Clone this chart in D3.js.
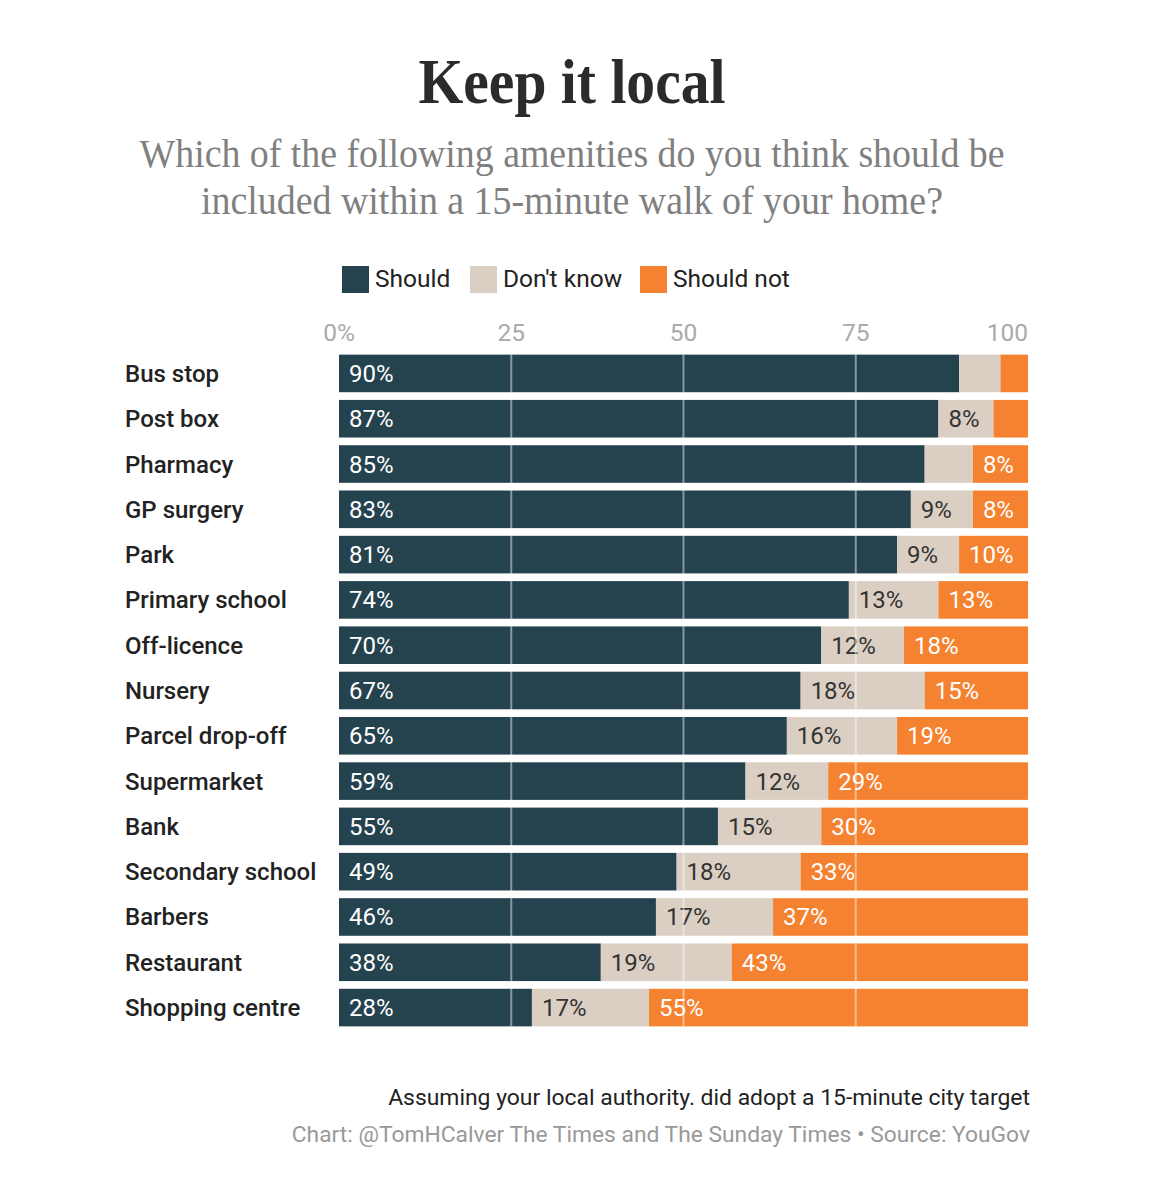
<!DOCTYPE html>
<html><head><meta charset="utf-8">
<script src="https://cdn.jsdelivr.net/npm/d3@7"></script>
<style>body{margin:0;background:#fff}svg{display:block}</style>
</head><body><svg id="c" width="1153" height="1200"></svg>
<script>
const categories = ["Bus stop","Post box","Pharmacy","GP surgery","Park","Primary school","Off-licence","Nursery","Parcel drop-off","Supermarket","Bank","Secondary school","Barbers","Restaurant","Shopping centre"];
const should    = [90,87,85,83,81,74,70,67,65,59,55,49,46,38,28];
const dontKnow  = [6,8,7,9,9,13,12,18,16,12,15,18,17,19,17];
const shouldNot = [4,5,8,8,10,13,18,15,19,29,30,33,37,43,55];
const seriesNames = ["Should","Don't know","Should not"];
const ticks = [0,25,50,75,100];
const tickLabels = ["0%","25","50","75","100"];

const colors = ["#25424f","#dbcfc3","#f58230"];
const labelColors = ["#fff","#333","#fff"];
const svg = d3.select("#c");
const sans = "Roboto, 'Noto Sans', sans-serif";

svg.append("text").attr("x",572).attr("y",103).attr("text-anchor","middle")
  .attr("font-family","'Liberation Serif', 'DejaVu Serif', serif").attr("font-weight","bold")
  .attr("font-size",64).attr("fill","#2b2b2b").attr("textLength",307).attr("lengthAdjust","spacingAndGlyphs")
  .text("Keep it local");
const sub = ["Which of the following amenities do you think should be","included within a 15-minute walk of your home?"];
const subW = [865,742];
sub.forEach((s,i)=>svg.append("text").attr("x",572).attr("y",167+i*47).attr("text-anchor","middle")
  .attr("font-family","'Liberation Serif', 'DejaVu Serif', serif").attr("font-size",39).attr("fill","#808080")
  .attr("textLength",subW[i]).attr("lengthAdjust","spacingAndGlyphs").text(s));

// legend
const legX = [342,470,640];
seriesNames.forEach((n,i)=>{
  svg.append("rect").attr("x",legX[i]).attr("y",266).attr("width",27).attr("height",27).attr("fill",colors[i]);
  svg.append("text").attr("x",legX[i]+33).attr("y",287).attr("font-family",sans).attr("font-size",24.5)
    .attr("fill","#222").text(n);
});

const x = d3.scaleLinear().domain([0,100]).range([339,1028]);
const y = d3.scaleBand().domain(categories).range([351,1030]).paddingInner(0.17).paddingOuter(0.08);

// ticks
svg.append("g").selectAll("text").data(ticks).join("text")
  .attr("x",d=>x(d)).attr("y",341).attr("text-anchor",(d,i)=>i===ticks.length-1?"end":"middle")
  .attr("font-family",sans).attr("font-size",24.5).attr("fill","#aaaaaa").text((d,i)=>tickLabels[i]);

const rows = categories.map((c,i)=>({c, v:[should[i],dontKnow[i],shouldNot[i]]}));
const g = svg.append("g");
rows.forEach(r=>{
  let acc=0;
  r.v.forEach((v,j)=>{
    const x0=acc; acc+=v;
    const x1 = j===2?100:acc;
    g.append("rect").attr("x",x(x0)).attr("y",y(r.c)).attr("width",x(x1)-x(x0)).attr("height",y.bandwidth()).attr("fill",colors[j]);
    if(v>=8){
      g.append("text").attr("x",x(x0)+10).attr("y",y(r.c)+y.bandwidth()/2+8.5).attr("font-family",sans)
        .attr("font-size",24).attr("fill",labelColors[j]).text(v+"%");
    }
  });
  svg.append("text").attr("x",125).attr("y",y(r.c)+y.bandwidth()/2+8.5).attr("font-family",sans)
    .attr("font-weight",500).attr("font-size",24).attr("fill","#222").text(r.c);
});

// gridlines over bars
svg.append("g").selectAll("line").data([25,50,75]).join("line")
  .attr("x1",d=>x(d)).attr("x2",d=>x(d)).attr("y1",y(categories[0])).attr("y2",y(categories[categories.length-1])+y.bandwidth())
  .attr("stroke","rgba(255,255,255,0.45)").attr("stroke-width",2);

svg.append("text").attr("x",1030).attr("y",1105).attr("text-anchor","end").attr("font-family",sans)
  .attr("font-size",22.9).attr("fill","#222").text("Assuming your local authority. did adopt a 15-minute city target");
svg.append("text").attr("x",1030).attr("y",1142).attr("text-anchor","end").attr("font-family",sans)
  .attr("font-size",22.8).attr("fill","#999").text("Chart: @TomHCalver The Times and The Sunday Times • Source: YouGov");
</script></body></html>
